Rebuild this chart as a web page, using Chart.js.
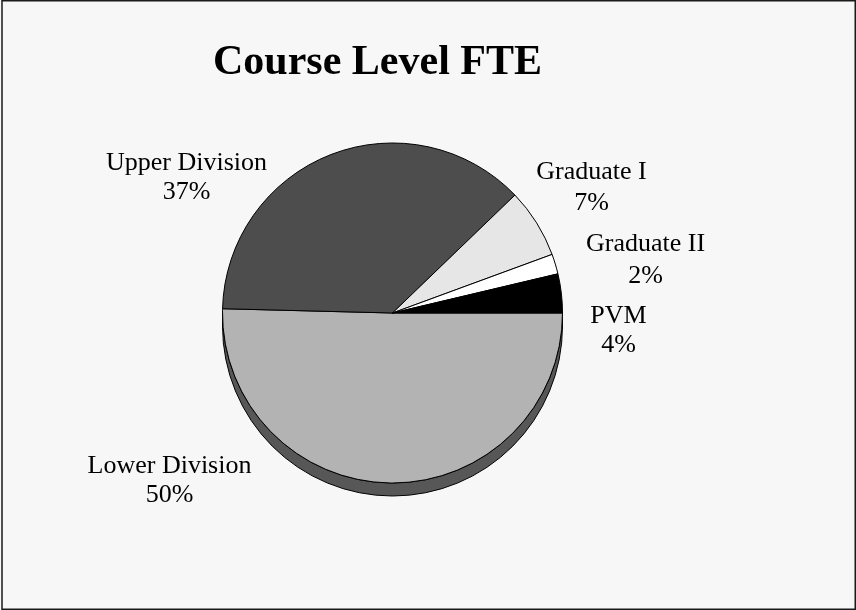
<!DOCTYPE html>
<html>
<head>
<meta charset="utf-8">
<script src="https://cdn.jsdelivr.net/npm/chart.js@4/dist/chart.umd.min.js"></script>
<style>
  html, body { margin: 0; padding: 0; background: #f7f7f7; }
  canvas { display: block; }
</style>
</head>
<body>
<canvas id="c" width="856" height="610"></canvas>
<script>
// ---- data (drawn clockwise starting at 3 o'clock) ----
const categories = ['Lower Division', 'Upper Division', 'Graduate I', 'Graduate II', 'PVM'];
const fteShare = [50.4, 37.4, 6.6, 1.9, 3.7];
const chartTitle = 'Course Level FTE';

// ---- styles ----
const sliceColors = ['#b3b3b3', '#4d4d4d', '#e6e6e6', '#ffffff', '#000000'];
const depthColor = '#575757';
const depthPx = 13;
// label anchor offsets from the pie centre: [dx, dy line1 baseline, dy line2 baseline]
const labelOffsets = [
  [-223, 160, 189],
  [-206, -143, -114],
  [199, -134, -103],
  [253, -62, -30],
  [226, 10, 39]
];

const frameAndDepth = {
  id: 'frameAndDepth',
  beforeDraw(chart) {
    const ctx = chart.ctx;
    ctx.save();
    ctx.fillStyle = '#f7f7f7';
    ctx.fillRect(0, 0, chart.width, chart.height);
    ctx.strokeStyle = '#1a1a1a';
    ctx.lineWidth = 1.5;
    ctx.strokeRect(2, 0.75, chart.width - 2.75, chart.height - 1.5);
    ctx.restore();
  },
  beforeDatasetsDraw(chart) {
    const arc = chart.getDatasetMeta(0).data[0];
    if (!arc) return;
    const cx = arc.x, cy = arc.y, r = arc.outerRadius;
    const ctx = chart.ctx;
    ctx.save();
    ctx.beginPath();
    ctx.moveTo(cx + r, cy);
    ctx.lineTo(cx + r, cy + depthPx);
    ctx.arc(cx, cy + depthPx, r, 0, Math.PI, false);
    ctx.lineTo(cx - r, cy);
    ctx.arc(cx, cy, r, Math.PI, 0, true);
    ctx.closePath();
    ctx.fillStyle = depthColor;
    ctx.fill();
    ctx.strokeStyle = '#000';
    ctx.lineWidth = 1;
    ctx.stroke();
    ctx.restore();
  },
  afterDatasetsDraw(chart) {
    const meta = chart.getDatasetMeta(0);
    const ctx = chart.ctx;
    const total = fteShare.reduce((a, b) => a + b, 0);
    ctx.save();
    ctx.fillStyle = '#000';
    ctx.textAlign = 'center';
    ctx.textBaseline = 'alphabetic';
    ctx.font = '26px "Liberation Serif", "Times New Roman", serif';
    meta.data.forEach((arc, i) => {
      const off = labelOffsets[i];
      const pct = Math.round(fteShare[i] / total * 100) + '%';
      ctx.fillText(categories[i], arc.x + off[0], arc.y + off[1]);
      ctx.fillText(pct, arc.x + off[0], arc.y + off[2]);
    });
    ctx.font = 'bold 42px "Liberation Serif", "Times New Roman", serif';
    const a0 = meta.data[0];
    ctx.fillText(chartTitle, a0.x - 15, 74);
    ctx.restore();
  }
};

new Chart(document.getElementById('c'), {
  type: 'pie',
  data: {
    labels: categories,
    datasets: [{
      data: fteShare,
      backgroundColor: sliceColors,
      borderColor: '#000000',
      borderWidth: 1,
      hoverOffset: 0
    }]
  },
  options: {
    responsive: false,
    animation: false,
    devicePixelRatio: 1,
    rotation: 90,
    radius: 170,
    layout: { padding: { left: 0, right: 71, top: 16, bottom: 0 } },
    plugins: {
      legend: { display: false },
      title: { display: false },
      tooltip: { enabled: false }
    }
  },
  plugins: [frameAndDepth]
});
</script>
</body>
</html>
